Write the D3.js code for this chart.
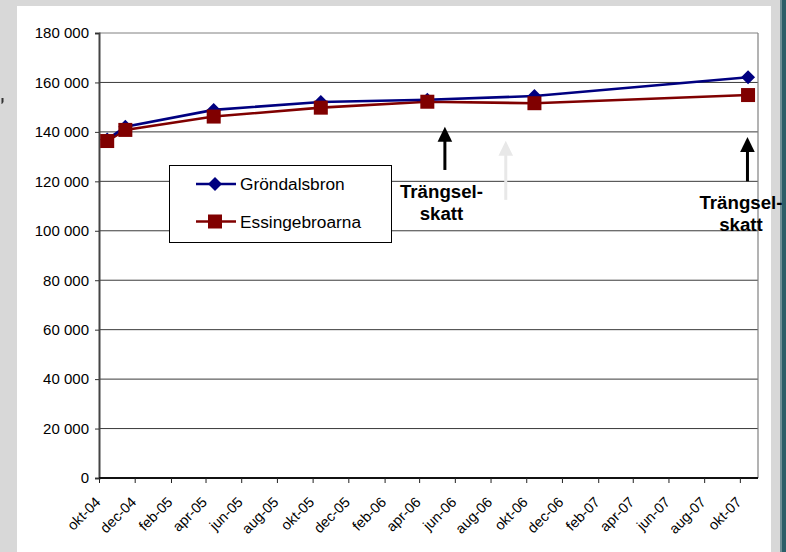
<!DOCTYPE html>
<html><head><meta charset="utf-8">
<script src="https://cdn.jsdelivr.net/npm/d3@7"></script>
<style>
html,body{margin:0;padding:0;background:#d8d8d8;}
svg{display:block;}
text{font-family:"Liberation Sans",Arial,sans-serif;fill:#000;}
</style></head>
<body>
<svg id="chart" width="786" height="552"></svg>
<script>
// ---- data ----
const pointDates = ["2004-10-15","2004-11-15","2005-04-15","2005-10-15","2006-04-15","2006-10-15","2007-10-15"];
const grondalsbron = [136900, 142100, 148900, 152100, 153000, 154500, 162100];
const essingebroarna = [136300, 140800, 146200, 149800, 152200, 151600, 154900];
const seriesNames = ["Gröndalsbron", "Essingebroarna"];
const yTickValues = [0, 20000, 40000, 60000, 80000, 100000, 120000, 140000, 160000, 180000];
const yTickLabels = ["0","20 000","40 000","60 000","80 000","100 000","120 000","140 000","160 000","180 000"];
const xTickDates = ["2004-10-01","2004-12-01","2005-02-01","2005-04-01","2005-06-01","2005-08-01","2005-10-01","2005-12-01","2006-02-01","2006-04-01","2006-06-01","2006-08-01","2006-10-01","2006-12-01","2007-02-01","2007-04-01","2007-06-01","2007-08-01","2007-10-01"];
const xTickLabels = ["okt-04","dec-04","feb-05","apr-05","jun-05","aug-05","okt-05","dec-05","feb-06","apr-06","jun-06","aug-06","okt-06","dec-06","feb-07","apr-07","jun-07","aug-07","okt-07"];
// annotations: arrows (date, from value, to value)
const arrowDates = ["2006-05-15","2006-08-27","2007-10-14"];
const arrowFrom = [124600, 112500, 120000];
const arrowTo = [142100, 136400, 137900];
const arrowColors = ["#000","#e8e8e8","#000"];
const noteText = ["Trängsel-","skatt"];

const parse = d3.utcParse("%Y-%m-%d");
const svg = d3.select("#chart");
const FONT = "'Liberation Sans',Arial,sans-serif";

// background panels
svg.append("rect").attr("x",0).attr("y",0).attr("width",786).attr("height",552).attr("fill","#d8d8d8");
svg.append("rect").attr("x",17).attr("y",6).attr("width",754).attr("height",546).attr("fill","#fff");
svg.append("rect").attr("x",780).attr("y",0).attr("width",2).attr("height",552).attr("fill","#6f9096");
svg.append("rect").attr("x",782).attr("y",0).attr("width",4).attr("height",552).attr("fill","#2c5e68");
svg.append("path").attr("d","M1.5,98 L3.5,98 L3.5,102 L2,104 L1.5,104 Z").attr("fill","#333");

const x = d3.scaleUtc().domain([parse("2004-10-01"), parse("2007-11-01")]).range([99, 758]);
const y = d3.scaleLinear().domain([0,180000]).range([478, 33]);

// gridlines
svg.append("g").selectAll("line").data(yTickValues.filter(v=>v>0)).join("line")
  .attr("x1",99).attr("x2",758).attr("y1",d=>y(d)).attr("y2",d=>y(d))
  .attr("stroke",d=>d===180000?"#808080":"#3a3a3a").attr("stroke-width",1);
// right border
svg.append("line").attr("x1",758).attr("x2",758).attr("y1",33).attr("y2",478).attr("stroke","#808080").attr("stroke-width",1.2);

// y axis
const yAxis = d3.axisLeft(y).tickValues(yTickValues).tickSize(4).tickPadding(6)
  .tickFormat((d,i)=>yTickLabels[i]);
const gy = svg.append("g").attr("transform","translate(99,0)").call(yAxis);
gy.select(".domain").attr("stroke","#444").attr("stroke-width",2);
gy.selectAll(".tick line").attr("stroke","#333");
gy.selectAll("text").style("font-family",FONT).style("font-size","15px").attr("fill","#111");

// x axis
const xAxis = d3.axisBottom(x).tickValues(xTickDates.map(parse)).tickSize(5).tickFormat((d,i)=>xTickLabels[i]);
const gx = svg.append("g").attr("transform","translate(0,478)").call(xAxis);
gx.select(".domain").attr("stroke","#111").attr("stroke-width",2).attr("d","M99,0H758");
gx.selectAll(".tick line").attr("stroke","#222");
gx.selectAll(".tick text")
  .attr("text-anchor","end").attr("y",0).attr("dy",0)
  .attr("transform","translate(2,25) rotate(-45)")
  .style("font-family",FONT).style("font-size","14.4px").attr("fill","#111");

// series
const dates = pointDates.map(parse);
const line = d3.line().x((d,i)=>x(dates[i])).y(d=>y(d));
svg.append("path").datum(essingebroarna).attr("d",line).attr("fill","none").attr("stroke","#800000").attr("stroke-width",2.6);
svg.append("path").datum(grondalsbron).attr("d",line).attr("fill","none").attr("stroke","#000080").attr("stroke-width",2.6);
svg.append("g").selectAll("path").data(grondalsbron).join("path")
  .attr("d",d3.symbol(d3.symbolSquare, 98)).attr("fill","#000080")
  .attr("transform",(d,i)=>`translate(${x(dates[i])},${y(d)}) rotate(45)`);
svg.append("g").selectAll("rect").data(essingebroarna).join("rect")
  .attr("x",(d,i)=>x(dates[i])-7).attr("y",d=>y(d)-7).attr("width",14).attr("height",14).attr("fill","#800000");

// legend
const lg = svg.append("g");
lg.append("rect").attr("x",169.5).attr("y",165.5).attr("width",222).attr("height",77).attr("fill","#fff").attr("stroke","#000").attr("stroke-width",1);
const rows = [184, 221.5];
const lcolors = ["#000080","#800000"];
seriesNames.forEach((n,i)=>{
  lg.append("line").attr("x1",196).attr("x2",236).attr("y1",rows[i]).attr("y2",rows[i]).attr("stroke",lcolors[i]).attr("stroke-width",2.6);
  if(i===0){
    lg.append("path").attr("d",d3.symbol(d3.symbolSquare,98)).attr("fill",lcolors[i]).attr("transform",`translate(215,${rows[i]}) rotate(45)`);
  } else {
    lg.append("rect").attr("x",208).attr("y",rows[i]-7).attr("width",14).attr("height",14).attr("fill",lcolors[i]);
  }
  lg.append("text").attr("x",240).attr("y",rows[i]).attr("dy","0.36em").style("font-size","17.3px").attr("fill","#111").text(n);
});

// arrows
arrowDates.forEach((d,i)=>{
  const ax = x(parse(d)), y0 = y(arrowFrom[i]), y1 = y(arrowTo[i]);
  svg.append("line").attr("x1",ax).attr("x2",ax).attr("y1",y0).attr("y2",y1+14).attr("stroke",arrowColors[i]).attr("stroke-width",3);
  svg.append("path").attr("d",`M${ax},${y1} L${ax+7.3},${y1+15} L${ax-7.3},${y1+15} Z`).attr("fill",arrowColors[i]);
});

// annotation labels
const noteX = [441.5, 741];
const noteY = [[198.3,220.3],[209.3,230.8]];
noteX.forEach((nx,i)=>{
  noteText.forEach((t,j)=>{
    svg.append("text").attr("x",nx).attr("y",noteY[i][j]).attr("text-anchor","middle")
      .style("font-size","18.7px").style("font-weight","bold").text(t);
  });
});
</script>
</body></html>
